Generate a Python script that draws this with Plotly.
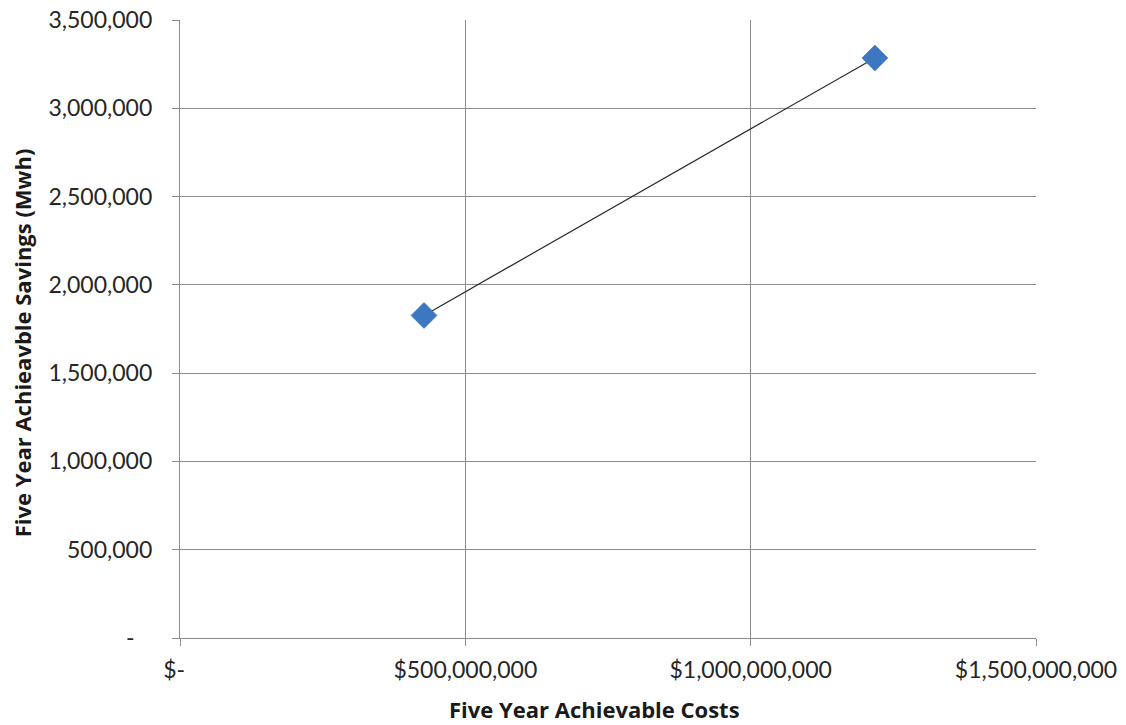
import plotly.graph_objects as go

# Five-year achievable costs vs. savings
costs = [427_600_000, 1_217_700_000]
savings_mwh = [1_827_000, 3_285_000]

x_tickvals = [0, 500_000_000, 1_000_000_000, 1_500_000_000]
x_ticktext = ["$-\u00a0\u00a0", "$500,000,000", "$1,000,000,000", "$1,500,000,000"]
y_tickvals = [0, 500_000, 1_000_000, 1_500_000, 2_000_000, 2_500_000, 3_000_000, 3_500_000]
y_ticktext = ["-\u00a0\u00a0\u00a0", "500,000", "1,000,000", "1,500,000", "2,000,000",
              "2,500,000", "3,000,000", "3,500,000"]

x_title = "Five Year Achievable Costs"
y_title = "Five Year Achieavble Savings (Mwh)"

FONT = "Lato"
TITLE_FONT = "Open Sans"
GRID = "#8c8c8c"

fig = go.Figure()
fig.add_trace(go.Scatter(
    x=costs, y=savings_mwh,
    mode="lines+markers",
    line=dict(color="#2b2b2b", width=1.2),
    marker=dict(symbol="diamond", size=20, color="#3d77c2",
                line=dict(color="#3569ad", width=0.5)),
    showlegend=False,
    cliponaxis=False,
))

axis_common = dict(
    showgrid=True, gridcolor=GRID, gridwidth=1,
    showline=True, linecolor=GRID, linewidth=1.3,
    ticks="outside", ticklen=7, tickcolor=GRID, tickwidth=1,
    zeroline=False, automargin=False,
    tickfont=dict(family=FONT, size=23, color="#262626"),
    tickmode="array",
)

fig.update_xaxes(range=[0, 1_500_000_000], tickvals=x_tickvals, ticktext=x_ticktext,
                 ticklabelstandoff=4, **axis_common)
fig.update_yaxes(range=[0, 3_500_000], tickvals=y_tickvals, ticktext=y_ticktext,
                 ticklabelstandoff=15, **axis_common)

fig.add_annotation(text=f"<b>{x_title}</b>", xref="paper", yref="paper",
                   x=(594 - 180) / 856, y=-(709 - 637.7) / 618, xanchor="center", yanchor="middle",
                   showarrow=False, font=dict(family=TITLE_FONT, size=22, color="#1a1a1a"))
fig.add_annotation(text=f"<b>{y_title}</b>", xref="paper", yref="paper",
                   x=-(180 - 22) / 856, y=(637.7 - 343) / 618, xanchor="center", yanchor="middle",
                   textangle=-90, showarrow=False, font=dict(family=TITLE_FONT, size=22, color="#1a1a1a"))

fig.update_layout(
    width=1126, height=725,
    margin=dict(l=180, r=90, t=20, b=87),
    plot_bgcolor="white", paper_bgcolor="white",
)

fig.write_html("out.html")
